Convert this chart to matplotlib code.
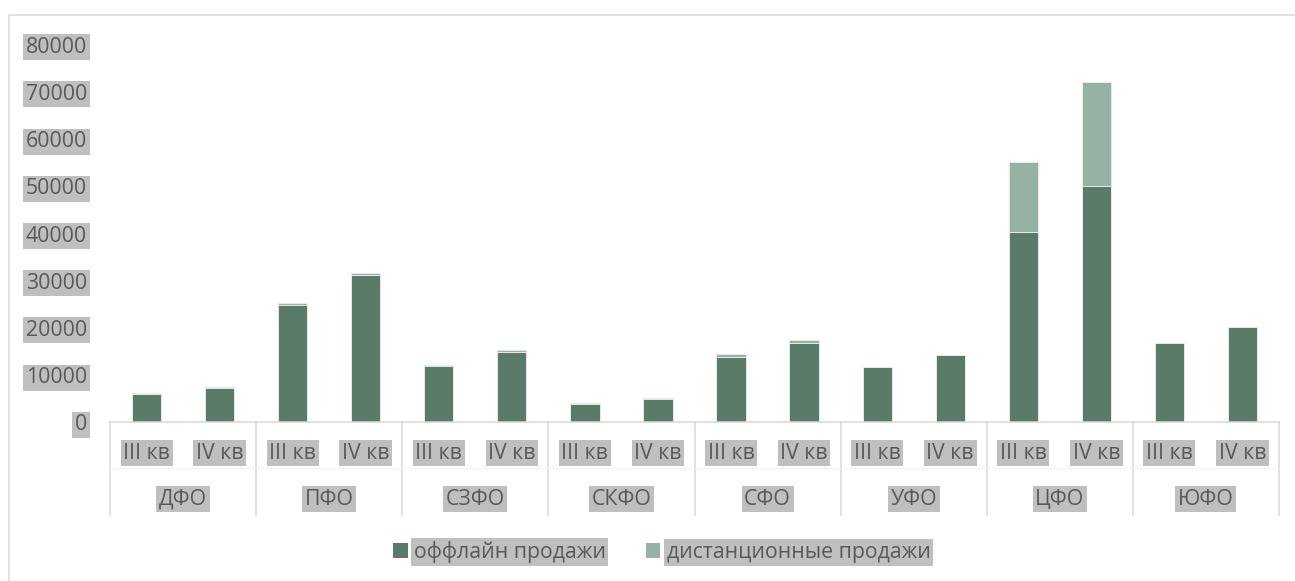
import numpy as np
import matplotlib
matplotlib.use("Agg")
import matplotlib.pyplot as plt
from matplotlib.patches import Patch, Rectangle
import matplotlib.transforms as mtransforms

regions = ["ДФО", "ПФО", "СЗФО", "СКФО", "СФО", "УФО", "ЦФО", "ЮФО"]
quarters = ["III кв", "IV кв"]
# values per region: III кв, IV кв
offline = [6000, 7300, 24800, 31200, 11850, 14950, 3900, 5000,
           13900, 16850, 11700, 14200, 40250, 50000, 16700, 20100]
remote = [150, 150, 400, 500, 200, 300, 100, 100,
          550, 550, 100, 100, 14850, 22200, 100, 150]
series_names = ["оффлайн продажи", "дистанционные продажи"]

c_dark = "#5B7B69"
c_light = "#96B2A3"
txt_col = "#595959"
lab_bg = "#BFBFBF"
line_col = "#D9D9D9"

plt.rcParams['font.family'] = ['Open Sans', 'DejaVu Sans']
fs = 15.3
box = dict(facecolor=lab_bg, edgecolor="none", pad=1.8)

fig = plt.figure(figsize=(12.95, 5.81), dpi=100)
W, H = 1295, 581
ax = fig.add_axes([110 / W, (H - 422.3) / H, (1279 - 110) / W, (422.3 - 44.7) / H])

x = np.arange(len(offline))
ax.bar(x, offline, width=0.4, color=c_dark, edgecolor="#E4ECE7", linewidth=0.7)
ax.bar(x, remote, width=0.4, bottom=offline, color=c_light, edgecolor="#E4ECE7", linewidth=0.7)

ax.set_xlim(-0.5, len(offline) - 0.5)
ax.set_ylim(0, 80000)
ax.set_yticks(np.arange(0, 80001, 10000))
ax.set_yticklabels([str(v) for v in range(0, 80001, 10000)])
ax.tick_params(axis="y", length=0, pad=16.5, labelsize=fs, labelcolor=txt_col)
for t in ax.get_yticklabels():
    t.set_bbox(box)
ax.set_xticks([])
for s in ["top", "right", "left"]:
    ax.spines[s].set_visible(False)
ax.spines["bottom"].set_color(line_col)
ax.spines["bottom"].set_linewidth(1.1)

# two-level category axis
trans = mtransforms.blended_transform_factory(ax.transData, ax.transAxes)
ax_h = 422.3 - 44.7
for i in range(len(offline)):
    ax.annotate(quarters[i % 2], xy=(x[i], 0), xycoords=trans,
                xytext=(0, -22.3), textcoords="offset points",
                ha="center", va="center", fontsize=fs, color=txt_col,
                bbox=box, annotation_clip=False)
for g, name in enumerate(regions):
    ax.annotate(name, xy=(2 * g + 0.5, 0), xycoords=trans,
                xytext=(0, -55.4), textcoords="offset points",
                ha="center", va="center", fontsize=fs, color=txt_col,
                bbox=box, annotation_clip=False)
for g in range(len(regions) + 1):
    ax.plot([2 * g - 0.5, 2 * g - 0.5], [0, -93 / ax_h], transform=trans,
            color=line_col, lw=1.1, clip_on=False)
ax.plot([-0.5, len(offline) - 0.5], [-46 / ax_h, -46 / ax_h], transform=trans,
        color="#F2F2F2", lw=0.8, clip_on=False)

# chart border (partially outside the image)
fig.patches.append(Rectangle((8.5 / W, -0.1), 1.2, (H - 14.5) / H + 0.1,
                             transform=fig.transFigure, fill=False,
                             edgecolor=line_col, lw=1.1))

handles = [Patch(facecolor=c_dark), Patch(facecolor=c_light)]
leg = fig.legend(handles, series_names, loc="center", bbox_to_anchor=(662 / W, 29 / H),
                 ncol=2, frameon=False, fontsize=fs, handlelength=0.66, handleheight=0.66,
                 handletextpad=0.3, columnspacing=1.9, borderaxespad=0)
for t in leg.get_texts():
    t.set_color(txt_col)
    t.set_bbox(box)

fig.savefig("out.png", dpi=100)
